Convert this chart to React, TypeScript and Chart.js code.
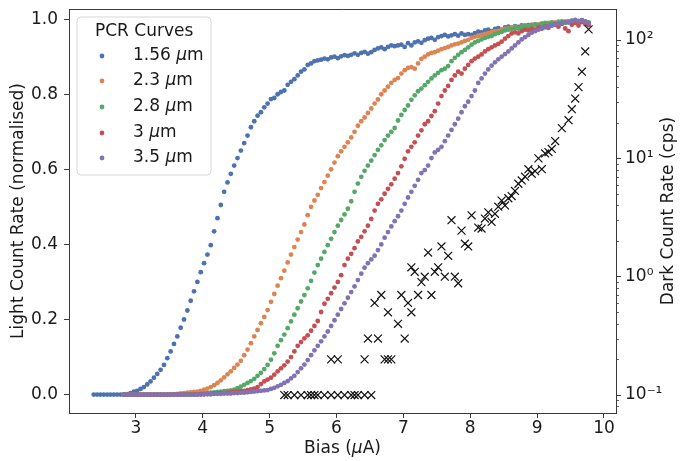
import React, { useEffect, useRef } from "react";
import { Chart, registerables } from "chart.js";

Chart.register(...registerables);

// ---------- data ----------
const bias = [
  2.37, 2.42, 2.47, 2.52, 2.57, 2.62, 2.67, 2.72, 2.77, 2.82,
  2.87, 2.92, 2.97, 3.02, 3.07, 3.12, 3.17, 3.22, 3.27, 3.32,
  3.37, 3.42, 3.47, 3.52, 3.57, 3.62, 3.67, 3.72, 3.77, 3.82,
  3.87, 3.92, 3.97, 4.02, 4.07, 4.12, 4.17, 4.22, 4.27, 4.32,
  4.37, 4.42, 4.47, 4.52, 4.57, 4.62, 4.67, 4.72, 4.77, 4.82,
  4.87, 4.92, 4.97, 5.02, 5.07, 5.12, 5.17, 5.22, 5.27, 5.32,
  5.37, 5.42, 5.47, 5.52, 5.57, 5.62, 5.67, 5.72, 5.77, 5.82,
  5.87, 5.92, 5.97, 6.02, 6.07, 6.12, 6.17, 6.22, 6.27, 6.32,
  6.37, 6.42, 6.47, 6.52, 6.57, 6.62, 6.67, 6.72, 6.77, 6.82,
  6.87, 6.92, 6.97, 7.02, 7.07, 7.12, 7.17, 7.22, 7.27, 7.32,
  7.37, 7.42, 7.47, 7.52, 7.57, 7.62, 7.67, 7.72, 7.77, 7.82,
  7.87, 7.92, 7.97, 8.02, 8.07, 8.12, 8.17, 8.22, 8.27, 8.32,
  8.37, 8.42, 8.47, 8.52, 8.57, 8.62, 8.67, 8.72, 8.77, 8.82,
  8.87, 8.92, 8.97, 9.02, 9.07, 9.12, 9.17, 9.22, 9.27, 9.32,
  9.37, 9.42, 9.47, 9.52, 9.57, 9.62, 9.67, 9.72, 9.77,
];
const biasLate = bias.slice(9);

const light156 = [
  0, 0, 0, 0, 0, 0, 0, 0, 0, 0,
  0.001, 0.004, 0.008, 0.01, 0.015, 0.02, 0.027, 0.035, 0.045, 0.055,
  0.066, 0.079, 0.097, 0.115, 0.135, 0.155, 0.178, 0.2, 0.224, 0.25,
  0.275, 0.3, 0.326, 0.35, 0.373, 0.398, 0.435, 0.47, 0.505, 0.54,
  0.565, 0.588, 0.61, 0.63, 0.65, 0.67, 0.69, 0.712, 0.728, 0.743,
  0.752, 0.765, 0.775, 0.787, 0.79, 0.8, 0.806, 0.81, 0.825, 0.833,
  0.84, 0.85, 0.86, 0.866, 0.878, 0.882, 0.888, 0.89, 0.892, 0.895,
  0.893, 0.898, 0.9, 0.896, 0.901, 0.904, 0.902, 0.905, 0.909, 0.905,
  0.91, 0.913, 0.908, 0.912, 0.918, 0.922, 0.925, 0.92, 0.926, 0.93,
  0.928, 0.93, 0.932, 0.926, 0.936, 0.93, 0.938, 0.941, 0.937, 0.944,
  0.948, 0.95, 0.945, 0.952, 0.955, 0.958, 0.954, 0.957, 0.96, 0.956,
  0.962, 0.958, 0.96, 0.958, 0.963, 0.967, 0.965, 0.97, 0.972, 0.968,
  0.974, 0.976, 0.972, 0.978, 0.98, 0.977, 0.981, 0.979, 0.983, 0.98,
  0.984, 0.982, 0.985, 0.983, 0.987, 0.984, 0.986, 0.989, 0.985, 0.99,
  0.988, 0.991, 0.993, 0.99, 0.994, 0.992, 0.995, 0.991, 0.989,
];

const light23 = [
  0, 0, 0, 0, 0, 0, 0, 0, 0, 0,
  0, 0, 0, 0, 0, 0.001, 0.002, 0.003, 0.004, 0.005,
  0.006, 0.007, 0.008, 0.01, 0.013, 0.016, 0.02, 0.025, 0.031, 0.038,
  0.046, 0.054, 0.062, 0.071, 0.08, 0.09, 0.105, 0.12, 0.137, 0.155,
  0.172, 0.19, 0.207, 0.225, 0.247, 0.268, 0.29, 0.31, 0.33, 0.352,
  0.373, 0.393, 0.413, 0.433, 0.453, 0.478, 0.5, 0.517, 0.532, 0.55,
  0.566, 0.583, 0.6, 0.618, 0.635, 0.648, 0.66, 0.672, 0.685, 0.7,
  0.716, 0.728, 0.738, 0.75, 0.762, 0.775, 0.786, 0.8, 0.81, 0.82,
  0.83, 0.838, 0.843, 0.855, 0.864, 0.87, 0.872, 0.868, 0.882, 0.894,
  0.9, 0.906, 0.91, 0.912, 0.916, 0.92, 0.923, 0.926, 0.93, 0.933,
  0.935, 0.938, 0.942, 0.945, 0.95, 0.953, 0.955, 0.958, 0.961, 0.963,
  0.966, 0.968, 0.969, 0.972, 0.974, 0.975, 0.977, 0.979, 0.976, 0.98,
  0.983, 0.981, 0.985, 0.984, 0.986, 0.988, 0.985, 0.99, 0.987, 0.991,
  0.993, 0.99, 0.992, 0.994, 0.99, 0.995, 0.992, 0.996, 0.993, 0.99,
];

const light28 = [
  0, 0, 0, 0, 0, 0, 0, 0, 0, 0,
  0, 0, 0, 0, 0, 0, 0, 0, 0, 0,
  0, 0, 0.001, 0.002, 0.003, 0.004, 0.005, 0.006, 0.007, 0.008,
  0.009, 0.01, 0.011, 0.013, 0.017, 0.021, 0.026, 0.031, 0.036, 0.042,
  0.05, 0.058, 0.068, 0.079, 0.093, 0.11, 0.13, 0.145, 0.16, 0.177,
  0.195, 0.213, 0.23, 0.248, 0.265, 0.283, 0.303, 0.325, 0.345, 0.362,
  0.38, 0.398, 0.415, 0.433, 0.45, 0.465, 0.48, 0.495, 0.515, 0.54,
  0.562, 0.58, 0.596, 0.61, 0.623, 0.638, 0.652, 0.664, 0.678, 0.69,
  0.7, 0.71, 0.73, 0.745, 0.758, 0.77, 0.785, 0.797, 0.808, 0.815,
  0.824, 0.833, 0.842, 0.85, 0.857, 0.864, 0.868, 0.875, 0.888, 0.897,
  0.905, 0.912, 0.918, 0.925, 0.932, 0.938, 0.942, 0.946, 0.95, 0.953,
  0.955, 0.96, 0.963, 0.966, 0.97, 0.972, 0.974, 0.977, 0.975, 0.979,
  0.982, 0.98, 0.984, 0.986, 0.983, 0.987, 0.99, 0.988, 0.991, 0.987,
  0.992, 0.994, 0.99, 0.993, 0.996, 0.992, 0.995, 0.997, 0.994, 0.991,
];

const light3 = [
  0, 0, 0, 0, 0, 0, 0, 0, 0, 0,
  0, 0, 0, 0, 0, 0, 0, 0, 0, 0,
  0, 0, 0, 0.001, 0.001, 0.002, 0.002, 0.003, 0.003, 0.004,
  0.004, 0.005, 0.006, 0.007, 0.008, 0.009, 0.01, 0.012, 0.014, 0.016,
  0.02, 0.028, 0.035, 0.04, 0.045, 0.053, 0.062, 0.07, 0.078, 0.088,
  0.1, 0.115, 0.13, 0.14, 0.15, 0.158, 0.17, 0.183, 0.196, 0.22,
  0.242, 0.255, 0.27, 0.285, 0.3, 0.318, 0.345, 0.362, 0.375, 0.39,
  0.408, 0.42, 0.435, 0.45, 0.468, 0.49, 0.508, 0.52, 0.535, 0.548,
  0.56, 0.575, 0.59, 0.608, 0.628, 0.648, 0.66, 0.672, 0.69, 0.704,
  0.72, 0.728, 0.742, 0.755, 0.775, 0.795, 0.81, 0.822, 0.838, 0.85,
  0.86, 0.855, 0.868, 0.878, 0.888, 0.895, 0.9, 0.906, 0.914, 0.92,
  0.925, 0.93, 0.934, 0.94, 0.948, 0.955, 0.962, 0.965, 0.962, 0.968,
  0.972, 0.97, 0.974, 0.972, 0.978, 0.975, 0.98, 0.977, 0.983, 0.986,
  0.98, 0.988, 0.975, 0.968, 0.985, 0.99, 0.983, 0.992, 0.987, 0.984,
];

const light35 = [
  0, 0, 0, 0, 0, 0, 0, 0, 0, 0,
  0, 0, 0, 0, 0, 0, 0, 0, 0, 0,
  0, 0, 0, 0, 0.001, 0.001, 0.001, 0.002, 0.002, 0.002,
  0.003, 0.003, 0.003, 0.004, 0.004, 0.005, 0.005, 0.006, 0.007, 0.008,
  0.009, 0.01, 0.011, 0.012, 0.015, 0.018, 0.022, 0.026, 0.031, 0.036,
  0.043, 0.05, 0.06, 0.07, 0.08, 0.092, 0.105, 0.118, 0.13, 0.142,
  0.155, 0.168, 0.183, 0.198, 0.213, 0.228, 0.243, 0.258, 0.273, 0.288,
  0.305, 0.322, 0.338, 0.35, 0.36, 0.37, 0.385, 0.4, 0.418, 0.433,
  0.448, 0.462, 0.475, 0.49, 0.508, 0.525, 0.54, 0.556, 0.572, 0.59,
  0.598, 0.61, 0.63, 0.645, 0.652, 0.66, 0.675, 0.69, 0.705, 0.72,
  0.735, 0.752, 0.768, 0.78, 0.795, 0.81, 0.83, 0.842, 0.855, 0.866,
  0.876, 0.885, 0.893, 0.9, 0.907, 0.914, 0.922, 0.93, 0.938, 0.946,
  0.952, 0.958, 0.964, 0.968, 0.972, 0.975, 0.978, 0.981, 0.984, 0.986,
  0.988, 0.99, 0.993, 0.991, 0.995, 0.998, 0.994, 0.997, 0.993, 0.99,
];

const darkBias = [
  5.22, 5.27, 5.37, 5.47, 5.57, 5.62, 5.67, 5.72, 5.82, 5.92, 6.02, 6.12, 6.22, 6.27, 6.32, 6.42, 6.52,
  5.92, 6.02, 6.42, 6.72, 6.77, 6.82,
  6.47, 6.62, 7.02,
  6.92, 6.77, 7.12, 6.57, 7.07, 6.67, 6.97, 7.22, 7.42,
  7.12, 7.17, 7.27, 7.32, 7.37, 7.47, 7.52, 7.57, 7.62, 7.67,
  7.72, 7.77, 7.82, 7.87, 7.92, 7.97, 8.02, 8.12, 8.17, 8.22,
  8.27, 8.32, 8.37, 8.42, 8.47, 8.52, 8.57, 8.62, 8.67, 8.72,
  8.77, 8.82, 8.87, 8.92, 8.97, 9.02, 9.07, 9.12, 9.17, 9.22,
  9.27, 9.37, 9.47, 9.52, 9.57, 9.62, 9.67, 9.72, 9.77,
];
const darkRate = [
  0.1, 0.1, 0.1, 0.1, 0.1, 0.1, 0.1, 0.1, 0.1, 0.1, 0.1, 0.1, 0.1, 0.1, 0.1, 0.1, 0.1,
  0.2, 0.2, 0.2, 0.2, 0.2, 0.2,
  0.3, 0.3, 0.3,
  0.4, 0.5, 0.5, 0.6, 0.6, 0.7, 0.7, 0.7, 0.7,
  1.2, 1.1, 0.9, 1.0, 1.6, 1.1, 1.2, 1.8, 1.0, 1.5,
  3.0, 1.0, 0.88, 2.45, 1.9, 1.8, 3.3, 2.6, 2.55, 3.1,
  3.5, 2.9, 3.4, 3.9, 4.4, 4.0, 4.6, 4.8, 5.3, 6.1,
  6.5, 7.0, 8.1, 7.4, 7.8, 10, 8.1, 11, 11.3, 12,
  14, 18, 21, 26, 32, 40, 54, 80, 123,
];

const seriesLabels = ["1.56", "2.3", "2.8", "3", "3.5"];
const seriesColors = ["#4C72B0", "#DD8452", "#55A868", "#C44E52", "#8172B3"];
const xTicks = [3, 4, 5, 6, 7, 8, 9, 10];
const yTicks = [0, 0.2, 0.4, 0.6, 0.8, 1.0];
const darkTicks = [0.1, 1, 10, 100];
const darkTickLabels = ["10\u207B\u00B9", "10\u2070", "10\u00B9", "10\u00B2"];

// ---------- style ----------
const FONT = "DejaVu Sans";
const FS = 17;
const TXT = "#1a1a1a";
const AX = "#3a3a3a";

type Part = [string, boolean];

function drawParts(ctx: CanvasRenderingContext2D, parts: Part[], x: number, y: number, align: "left" | "center") {
  const widths = parts.map(([t, it]) => {
    ctx.font = `${it ? "italic " : ""}${FS}px "${FONT}"`;
    return ctx.measureText(t).width;
  });
  const total = widths.reduce((a, b) => a + b, 0);
  let cx = align === "center" ? x - total / 2 : x;
  ctx.textAlign = "left";
  ctx.textBaseline = "middle";
  parts.forEach(([t, it], i) => {
    ctx.font = `${it ? "italic " : ""}${FS}px "${FONT}"`;
    ctx.fillText(t, cx, y);
    cx += widths[i];
  });
}

const decorPlugin = {
  id: "decor",
  afterDraw(chart: any) {
    const ctx: CanvasRenderingContext2D = chart.ctx;
    const { left, right, top, bottom } = chart.chartArea;
    ctx.save();
    // top spine
    ctx.strokeStyle = AX;
    ctx.lineWidth = 1;
    ctx.beginPath();
    ctx.moveTo(left, Math.round(top) + 0.5);
    ctx.lineTo(right, Math.round(top) + 0.5);
    ctx.stroke();

    // minor log ticks on right axis
    const y2 = chart.scales.y2;
    ctx.beginPath();
    for (let e = -3; e <= 3; e++) {
      for (let k = 2; k <= 9; k++) {
        const v = k * Math.pow(10, e);
        if (v < y2.min || v > y2.max) continue;
        const py = Math.round(y2.getPixelForValue(v)) + 0.5;
        ctx.moveTo(right, py);
        ctx.lineTo(right + 3, py);
      }
    }
    ctx.lineWidth = 0.8;
    ctx.stroke();

    // legend
    const lx = 77, ly = 17, lw = 134, lh = 158, r = 4;
    ctx.beginPath();
    ctx.moveTo(lx + r, ly);
    ctx.arcTo(lx + lw, ly, lx + lw, ly + lh, r);
    ctx.arcTo(lx + lw, ly + lh, lx, ly + lh, r);
    ctx.arcTo(lx, ly + lh, lx, ly, r);
    ctx.arcTo(lx, ly, lx + lw, ly, r);
    ctx.closePath();
    ctx.fillStyle = "rgba(255,255,255,0.85)";
    ctx.fill();
    ctx.strokeStyle = "#d6d6d6";
    ctx.lineWidth = 1;
    ctx.stroke();

    ctx.fillStyle = TXT;
    drawParts(ctx, [["PCR Curves", false]], 95, 32, "left");
    const rows = [56, 81, 107, 133, 158];
    seriesLabels.forEach((lab, i) => {
      ctx.fillStyle = seriesColors[i];
      ctx.beginPath();
      ctx.arc(102, rows[i], 2.4, 0, Math.PI * 2);
      ctx.fill();
      ctx.fillStyle = TXT;
      drawParts(ctx, [[lab + " ", false], ["\u03BC", true], ["m", false]], 133, rows[i], "left");
    });

    // axis titles
    ctx.fillStyle = TXT;
    drawParts(ctx, [["Bias (", false], ["\u03BC", true], ["A)", false]], (left + right) / 2, 449, "center");

    const cy = (top + bottom) / 2;
    ctx.font = `${FS}px "${FONT}"`;
    ctx.textAlign = "center";
    ctx.textBaseline = "middle";
    ctx.save();
    ctx.translate(19, cy);
    ctx.rotate(-Math.PI / 2);
    ctx.fillText("Light Count Rate (normalised)", 0, 0);
    ctx.restore();
    ctx.save();
    ctx.translate(669, cy);
    ctx.rotate(-Math.PI / 2);
    ctx.fillText("Dark Count Rate (cps)", 0, 0);
    ctx.restore();

    ctx.restore();
  },
};

const zeroPad = (s: any) => {
  s.paddingLeft = 0;
  s.paddingRight = 0;
  s.paddingTop = 0;
  s.paddingBottom = 0;
};

export default function App() {
  const ref = useRef<HTMLCanvasElement | null>(null);

  useEffect(() => {
    if (!ref.current) return;
    const curves = [light156, light23, light28, light3, light35];
    const curveData = curves.map((vals, i) => {
      const xs = i === 0 ? bias : biasLate;
      return xs.map((x, j) => ({ x, y: vals[j] }));
    });

    const datasets: any[] = [
      {
        label: "Dark counts",
        data: darkBias.map((x, i) => ({ x, y: darkRate[i] })),
        yAxisID: "y2",
        pointStyle: "crossRot",
        pointRadius: 5.6,
        pointHoverRadius: 5.6,
        pointBorderColor: "#111",
        pointBackgroundColor: "#111",
        pointBorderWidth: 1.2,
        showLine: false,
      },
    ];
    for (let i = 4; i >= 0; i--) {
      datasets.push({
        label: seriesLabels[i] + " \u03BCm",
        data: curveData[i],
        yAxisID: "y",
        pointStyle: "circle",
        pointRadius: 2.4,
        pointHoverRadius: 2.4,
        pointBackgroundColor: seriesColors[i],
        pointBorderColor: seriesColors[i],
        pointBorderWidth: 0,
        showLine: false,
      });
    }

    const tickFont = { family: FONT, size: FS };
    const chart = new Chart(ref.current, {
      type: "scatter",
      data: { datasets },
      plugins: [decorPlugin],
      options: {
        animation: false,
        responsive: false,
        devicePixelRatio: 1,
        events: [],
        layout: { padding: { top: 9, left: 0, right: 0, bottom: 0 } },
        plugins: { legend: { display: false }, tooltip: { enabled: false } },
        scales: {
          x: {
            type: "linear",
            position: "bottom",
            min: 2.0,
            max: 10.18,
            bounds: "data",
            afterBuildTicks: (s: any) => {
              s.ticks = xTicks.map((v) => ({ value: v }));
            },
            afterFit: (s: any) => {
              s.height = 48;
              zeroPad(s);
            },
            grid: { drawOnChartArea: false, drawTicks: true, tickLength: 5, tickColor: AX, tickWidth: 1 },
            border: { display: true, color: AX, width: 1 },
            ticks: {
              font: tickFont,
              color: TXT,
              padding: 0,
              maxRotation: 0,
              autoSkip: false,
              callback: (v: any) => String(v),
            },
          },
          y: {
            type: "linear",
            position: "left",
            min: -0.049,
            max: 1.027,
            bounds: "data",
            afterBuildTicks: (s: any) => {
              s.ticks = yTicks.map((v) => ({ value: v }));
            },
            afterFit: (s: any) => {
              s.width = 69;
              zeroPad(s);
            },
            grid: { drawOnChartArea: false, drawTicks: true, tickLength: 5, tickColor: AX, tickWidth: 1 },
            border: { display: true, color: AX, width: 1 },
            ticks: {
              font: tickFont,
              color: TXT,
              padding: 6,
              autoSkip: false,
              callback: (v: any) => Number(v).toFixed(1),
            },
          },
          y2: {
            type: "logarithmic",
            position: "right",
            min: Math.pow(10, -1.152),
            max: Math.pow(10, 2.262),
            bounds: "data",
            afterBuildTicks: (s: any) => {
              s.ticks = darkTicks.map((v) => ({ value: v }));
            },
            afterFit: (s: any) => {
              s.width = 66;
              zeroPad(s);
            },
            grid: { drawOnChartArea: false, drawTicks: true, tickLength: 5, tickColor: AX, tickWidth: 1 },
            border: { display: true, color: AX, width: 1 },
            ticks: {
              font: tickFont,
              color: TXT,
              padding: 4,
              autoSkip: false,
              callback: (v: any) => {
                const idx = darkTicks.findIndex((t) => Math.abs(Math.log10(t) - Math.log10(Number(v))) < 1e-6);
                return idx >= 0 ? darkTickLabels[idx] : "";
              },
            },
          },
        },
      } as any,
    });
    return () => chart.destroy();
  }, []);

  return (
    <div style={{ position: "fixed", left: 0, top: 0, width: 682, height: 461, background: "#fff" }}>
      <canvas ref={ref} width={682} height={461} style={{ display: "block", width: 682, height: 461 }} />
    </div>
  );
}
